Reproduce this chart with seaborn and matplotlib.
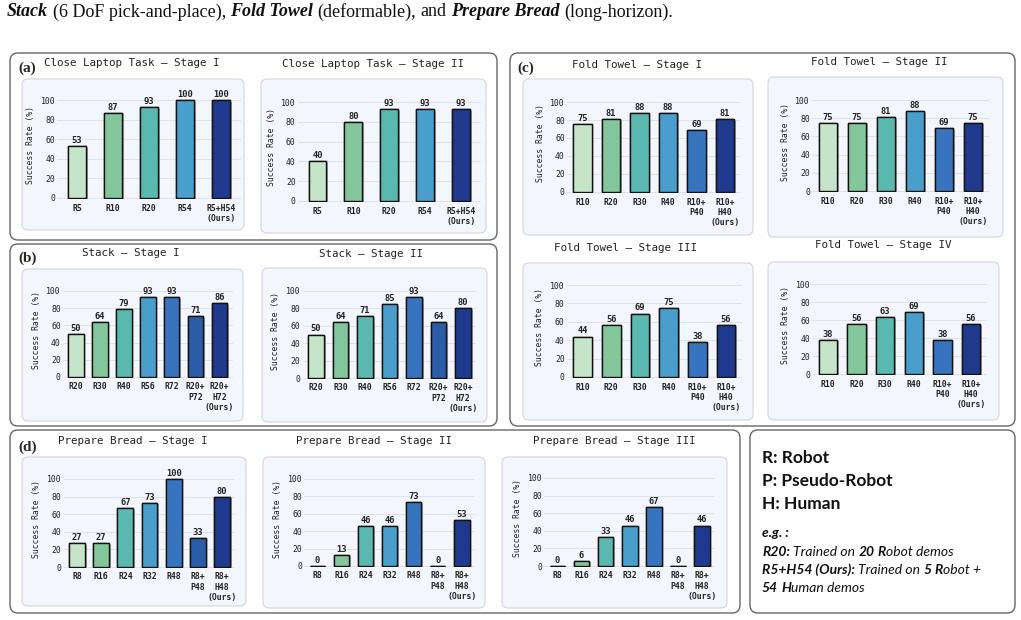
import matplotlib
matplotlib.use("Agg")
import matplotlib.pyplot as plt
import matplotlib.patheffects as pe
from matplotlib.patches import FancyBboxPatch
import seaborn as sns

W, H = 1021, 620

# data
laptop_labels = ["R5", "R10", "R20", "R54", "R5+H54\n(Ours)"]
laptop_s1 = [53, 87, 93, 100, 100]
laptop_s2 = [40, 80, 93, 93, 93]

stack_labels = ["R20", "R30", "R40", "R56", "R72", "R20+\nP72", "R20+\nH72\n(Ours)"]
stack_s1 = [50, 64, 79, 93, 93, 71, 86]
stack_s2 = [50, 64, 71, 85, 93, 64, 80]

towel_labels = ["R10", "R20", "R30", "R40", "R10+\nP40", "R10+\nH40\n(Ours)"]
towel_s1 = [75, 81, 88, 88, 69, 81]
towel_s2 = [75, 75, 81, 88, 69, 75]
towel_s3 = [44, 56, 69, 75, 38, 56]
towel_s4 = [38, 56, 63, 69, 38, 56]

bread_labels = ["R8", "R16", "R24", "R32", "R48", "R8+\nP48", "R8+\nH48\n(Ours)"]
bread_s1 = [27, 27, 67, 73, 100, 33, 80]
bread_s2 = [0, 13, 46, 46, 73, 0, 53]
bread_s3 = [0, 6, 33, 46, 67, 0, 46]

base_colors = ["#c6e4c9", "#84c69c", "#5bb8af", "#4a9ecb", "#3874bd", "#2b5ca8"]
ours_color = "#1f3a8c"

sns.set_theme(style="white")
plt.rcParams["font.family"] = ["DejaVu Sans Mono"]

fig = plt.figure(figsize=(W / 100, H / 100), dpi=100)
bg = fig.add_axes([0, 0, 1, 1], zorder=-5)
bg.set_xlim(0, W); bg.set_ylim(H, 0); bg.axis("off")


def rbox(x0, y0, x1, y1, face, edge, lw, rad):
    bg.add_patch(FancyBboxPatch((x0, y0), x1 - x0, y1 - y0,
                                boxstyle=f"round,pad=0,rounding_size={rad}",
                                facecolor=face, edgecolor=edge, linewidth=lw))


# outer group boxes
for b in [(10, 53, 497, 240), (10, 244, 497, 426), (510, 53, 1015, 426),
          (10, 430, 740, 613), (750, 430, 1015, 613)]:
    rbox(*b, face="white", edge="#666666", lw=1.0, rad=8)

for lab, x, y in [("(a)", 18, 68), ("(b)", 18, 258), ("(c)", 517, 68), ("(d)", 18, 447)]:
    bg.text(x, y, lab, family="Liberation Serif", fontweight="bold", fontsize=11,
            ha="left", va="center")

panels = [
    ("Close Laptop Task — Stage I", laptop_labels, laptop_s1, (77, 221), (198, 100), (132, 63), (22, 79, 244, 230)),
    ("Close Laptop Task — Stage II", laptop_labels, laptop_s2, (317.5, 461), (201, 102), (373, 64), (261, 79, 486, 233)),
    ("Stack — Stage I", stack_labels, stack_s1, (76, 219.5), (377, 291), (131, 253), (22, 269, 243, 421)),
    ("Stack — Stage II", stack_labels, stack_s2, (316, 463), (378, 291), (371, 254), (262, 268, 487, 422)),
    ("Fold Towel — Stage I", towel_labels, towel_s1, (582.5, 724.8), (192, 102), (637, 65), (523, 79, 753, 235)),
    ("Fold Towel — Stage II", towel_labels, towel_s2, (828, 973), (191, 100), (879, 62), (768, 77, 1003, 237)),
    ("Fold Towel — Stage III", towel_labels, towel_s3, (582.5, 726), (377, 285), (625, 248), (523, 263, 753, 420)),
    ("Fold Towel — Stage IV", towel_labels, towel_s4, (828, 971), (374, 284), (883, 245), (768, 262, 999, 420)),
    ("Prepare Bread — Stage I", bread_labels, bread_s1, (77, 222), (567, 479), (133, 441), (22, 457, 246, 606)),
    ("Prepare Bread — Stage II", bread_labels, bread_s2, (317.5, 461.7), (566, 479), (374, 441), (263, 457, 485, 608)),
    ("Prepare Bread — Stage III", bread_labels, bread_s3, (557.5, 702), (566, 478), (614, 441), (502, 457, 727, 608)),
]

YLO, YHI = -1.5, 110
for title, labels, vals, (c0, c1), (y0, y100), (tx, ty), box in panels:
    n = len(labels)
    rbox(*box, face="#f3f6fc", edge="#cfd6e0", lw=0.8, rad=6)
    bg.text(tx, ty, title, fontsize=7.8, ha="center", va="center", color="#222222")

    sp = (c1 - c0) / (n - 1)
    xa, xb = c0 - 0.55 * sp, c1 + 0.55 * sp
    k = (y0 - y100) / 100.0
    ya, yb = y0 - YLO * k, y0 - YHI * k
    ax = fig.add_axes([xa / W, 1 - ya / H, (xb - xa) / W, (ya - yb) / H])
    ax.set_facecolor("none")

    pal = dict(zip(labels, base_colors[:n - 1] + [ours_color]))
    sns.barplot(x=labels, y=vals, hue=labels, order=labels, hue_order=labels,
                palette=pal, legend=False, saturation=1, ax=ax,
                width=0.5 if n == 5 else 0.65, edgecolor="#111111", linewidth=1.0)
    for p in ax.patches:
        p.set_path_effects([pe.withSimplePatchShadow(offset=(1.2, -1.2), shadow_rgbFace="#777777", alpha=0.5),
                            pe.Normal()])
    for i, v in enumerate(vals):
        ax.text(i, v + 1.2, str(v), ha="center", va="bottom", fontsize=6.3,
                fontweight="bold", color="#222222")

    ax.set_xlim(-0.55, n - 0.45)
    ax.set_ylim(YLO, YHI)
    ax.set_yticks(range(0, 101, 20))
    ax.yaxis.grid(True, color="#dde2e9", linewidth=0.7)
    ax.set_axisbelow(True)
    for s in ax.spines.values():
        s.set_visible(False)
    ax.tick_params(axis="both", length=0, labelsize=5.9, colors="#222222")
    ax.tick_params(axis="y", pad=1.5)
    ax.tick_params(axis="x", pad=3)
    for t in ax.get_xticklabels():
        t.set_fontweight("bold")
    ax.set_xlabel("")
    ax.set_ylabel("Success Rate (%)", fontsize=5.9, labelpad=4, color="#222222")

renderer = fig.canvas.get_renderer()


def runs(x, y, pieces, size, family, color="#111111"):
    # pieces: list of (text, weight, style); " " means a space gap
    for txt, wt, st in pieces:
        if txt == " ":
            a = bg.text(0, 0, "a a", fontsize=size, family=family, fontweight=wt, style=st)
            b = bg.text(0, 0, "aa", fontsize=size, family=family, fontweight=wt, style=st)
            x += a.get_window_extent(renderer).width - b.get_window_extent(renderer).width
            a.remove(); b.remove()
            continue
        t = bg.text(x, y, txt, fontsize=size, family=family, fontweight=wt, style=st,
                    ha="left", va="center", color=color)
        x += t.get_window_extent(renderer).width


S = " "
B, N = "bold", "normal"
I, U = "italic", "normal"
cap = [("Stack", B, I), (S, N, U), ("(6 DoF pick-and-place),", N, U), (S, N, U),
       ("Fold Towel", B, I), (S, N, U), ("(deformable),", N, U), (S, N, U), ("and", N, U), (S, N, U),
       ("Prepare Bread", B, I), (S, N, U), ("(long-horizon).", N, U)]
runs(7, 12, cap, 13, "Liberation Serif")

lf = "Lato"
runs(762, 458, [("R: Robot", B, U)], 12.5, lf)
runs(762, 481, [("P: Pseudo-Robot", B, U)], 12.5, lf)
runs(762, 504, [("H: Human", B, U)], 12.5, lf)
runs(762, 533, [("e.g. :", B, I)], 10, lf)
runs(762, 552, [("R20:", B, I), (S, N, I), ("Trained on", N, I), (S, N, I), ("20", B, I), (S, N, I),
                ("R", B, I), ("obot demos", N, I)], 10, lf)
runs(762, 570, [("R5+H54 (Ours):", B, I), (S, N, I), ("Trained on", N, I), (S, N, I), ("5", B, I), (S, N, I),
                ("R", B, I), ("obot +", N, I)], 10, lf)
runs(762, 588, [("54", B, I), (S, N, I), ("H", B, I), ("uman demos", N, I)], 10, lf)

fig.savefig("out.png", dpi=100)
